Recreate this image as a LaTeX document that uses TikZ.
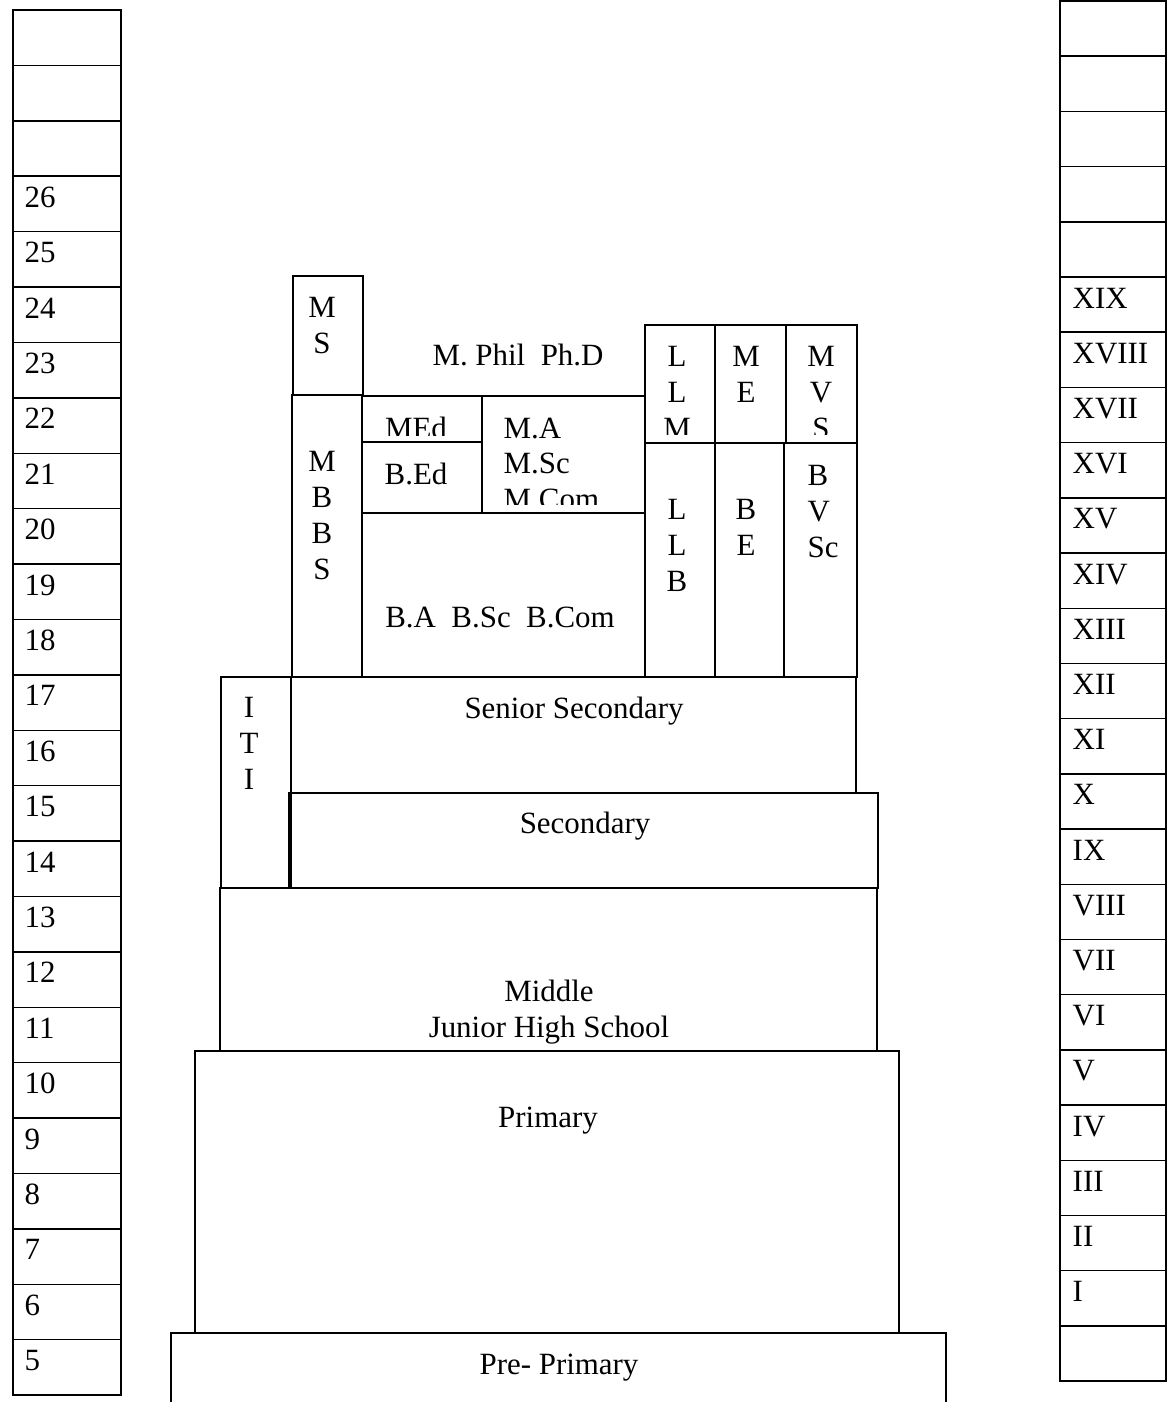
\documentclass[tikz,border=0pt]{standalone}
\usepackage{fontspec}
\setmainfont{Liberation Serif}

\newcommand*{\pxw}{1171}
\newcommand*{\pxh}{1402}

\begin{document}
\begin{tikzpicture}
[
	x=0.02cm, y=-0.02cm,
	line width=0.8pt,
	lbl/.style={inner sep=0pt, font=\fontsize{17.6}{20.4}\selectfont},
	stack/.style={lbl, align=center, anchor=north},
]
	\useasboundingbox (0,0) rectangle (\pxw,\pxh);

	% age column
	\foreach \i in {0,...,24}
		\draw (13,{10+55.4*\i}) rectangle (121,{10+55.4*(\i+1)});
	\foreach \i in {3,...,24} {
		\pgfmathtruncatemacro{\age}{29-\i}
		\node[lbl, anchor=base west] (age\age) at (24,{41+55.4*\i}) {\age};
	}

	% class column
	\foreach \i in {0,...,24}
		\draw (1060,{1+55.2*\i}) rectangle (1166,{1+55.2*(\i+1)});
	\foreach \cls [count=\i from 5] in {XIX,XVIII,XVII,XVI,XV,XIV,XIII,XII,XI,X,IX,VIII,VII,VI,V,IV,III,II,I}
		\node[lbl, anchor=base west] (class\i) at (1072,{32+55.2*\i}) {\cls};

	% school stages
	\draw (171,\pxh) -- (171,1333) -- (946,1333) -- (946,\pxh);
	\node[lbl, anchor=base] (preprimary) at (559,1374) {Pre- Primary};

	\draw (195,1051) rectangle (899,1333);
	\node[lbl, anchor=base] (primary) at (548,1127) {Primary};

	\draw (220,888) rectangle (877,1051);
	\node[stack] (middle) at (549,979) {Middle\\Junior High School};

	\draw (289,793) rectangle (878,888);
	\node[lbl, anchor=base] (secondary) at (585,833) {Secondary};

	\draw (291,677) rectangle (856,793);
	\node[lbl, anchor=base] (senior) at (574,718) {Senior Secondary};

	\draw (221,677) rectangle (291,888);
	\node[stack] (iti) at (249,697) {I\\T\\I};

	% medicine
	\draw (292,395) rectangle (362,677);
	\node[stack] (mbbs) at (322,451) {M\\B\\B\\S};
	\draw (293,276) rectangle (363,395);
	\node[stack] (ms) at (322,297) {M\\S};

	% arts, science, commerce, education
	\draw (362,396) -- (645,396);
	\node[lbl, anchor=base] (mphil) at (518,365) {M. Phil\ \ Ph.D};

	\draw (362,396) rectangle (482,442);
	\begin{scope}
		\clip (362,396) rectangle (482,435);
		\node[lbl, anchor=base] (med) at (416,438) {MEd};
	\end{scope}
	\draw (362,442) rectangle (482,513);
	\node[lbl, anchor=base] (bed) at (416,484) {B.Ed};

	\draw (482,396) rectangle (645,513);
	\begin{scope}
		\clip (482,396) rectangle (645,504);
		\node[lbl, align=left, anchor=north west] (masters) at (503,417) {M.A\\M.Sc\\M.Com};
	\end{scope}

	\draw (362,513) rectangle (645,677);
	\node[lbl, anchor=base] (bachelors) at (500,627) {B.A\ \ B.Sc\ \ B.Com};

	% law, engineering, veterinary
	\draw (645,325) rectangle (715,443);
	\draw (715,325) rectangle (786,443);
	\draw (786,325) rectangle (857,443);
	\begin{scope}
		\clip (645,325) rectangle (857,434);
		\node[stack] (llm) at (677,346) {L\\L\\M};
		\node[stack] (me) at (746,346) {M\\E};
		\node[stack] (mvs) at (821,346) {M\\V\\S};
	\end{scope}

	\draw (645,443) rectangle (715,677);
	\node[stack] (llb) at (677,499) {L\\L\\B};
	\draw (715,443) rectangle (784,677);
	\node[stack] (be) at (746,499) {B\\E};
	\draw (784,443) rectangle (857,677);
	\node[lbl, align=left, anchor=north west] (bvsc) at (807,465) {B\\V\\Sc};

\end{tikzpicture}
\end{document}
